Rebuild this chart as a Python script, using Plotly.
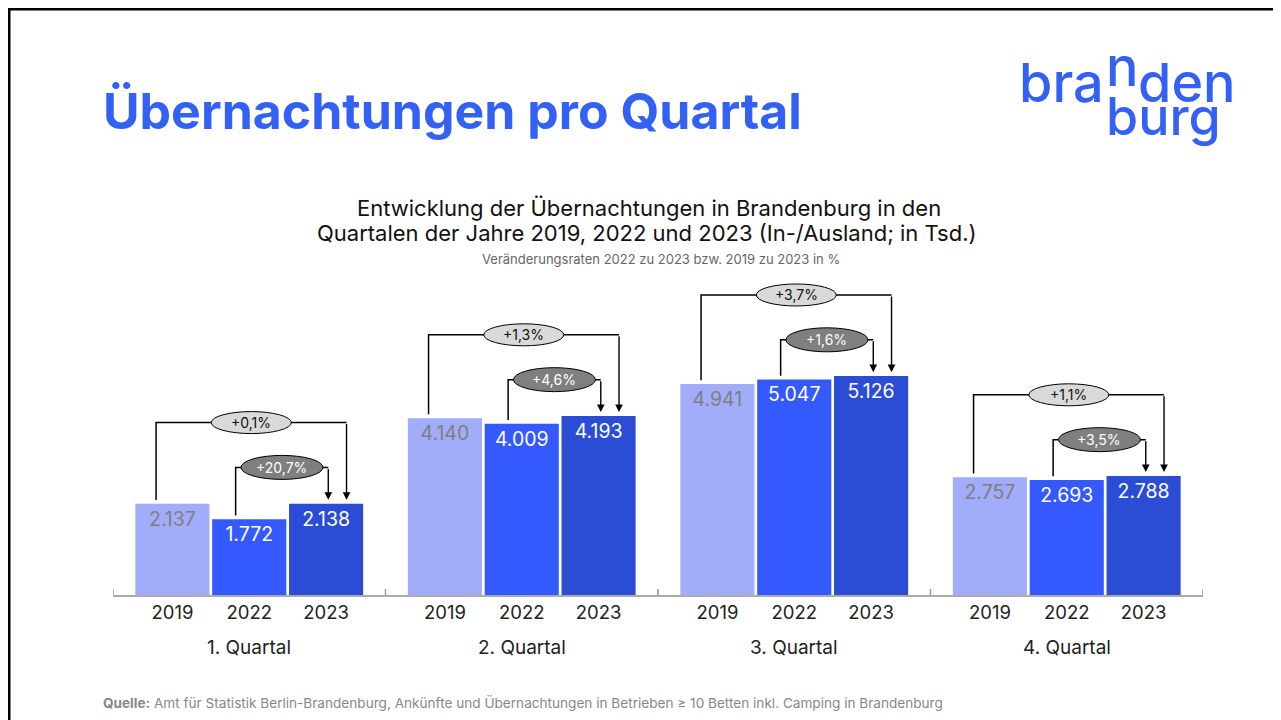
import plotly.graph_objects as go

# data (Übernachtungen in Tsd.)
quarters = ["1. Quartal", "2. Quartal", "3. Quartal", "4. Quartal"]
years = ["2019", "2022", "2023"]
v2019 = [2137, 4140, 4941, 2757]
v2022 = [1772, 4009, 5047, 2693]
v2023 = [2138, 4193, 5126, 2788]
chg_19_23 = ["+0,1%", "+1,3%", "+3,7%", "+1,1%"]
chg_22_23 = ["+20,7%", "+4,6%", "+1,6%", "+3,5%"]

bar_colors = ["#A1ACFA", "#3359FF", "#2B4DD6"]
text_colors = ["#7F7F7F", "white", "white"]
BLUE = "#3361F5"
FONT = "Inter"

SLOT = 0.282   # distance between bars inside a quarter
WIDTH = 0.272

# the page puts the figure 8px in from the top-left corner
OFF = 8
# plot area in page pixels
L, R, T, B = 113, 1203, 279, 595


def fx(px):
    return (px - L) / (R - L)


def fy(py):
    return (B - py) / (B - T)


def de(v):
    return f"{v:,}".replace(",", ".")


fig = go.Figure()

series = [v2019, v2022, v2023]
for j, (yr, vals) in enumerate(zip(years, series)):
    fig.add_trace(go.Bar(
        x=[q + (j - 1) * SLOT for q in range(len(quarters))],
        y=vals,
        width=WIDTH,
        name=yr,
        marker=dict(color=bar_colors[j], line=dict(width=0)),
        text=[de(v) for v in vals],
        textposition="inside",
        insidetextanchor="end",
        textfont=dict(family=FONT, size=19.5, color=text_colors[j]),
        hoverinfo="skip",
    ))

shapes = []
annotations = []

# group boundary ticks on the axis
for b in range(len(quarters) + 1):
    shapes.append(dict(type="line", xref="x", yref="y", x0=b - 0.5, x1=b - 0.5,
                       ysizemode="pixel", yanchor=0, y0=-6, y1=6,
                       line=dict(color="#9A9A9A", width=1.5)))

GAP = 90  # data units between bar top and connector

for q in range(len(quarters)):
    top = max(v2019[q], v2022[q], v2023[q])
    # outer bracket 2019 -> 2023
    yo = top + 1900
    xl = q - SLOT - 0.06
    xr = q + SLOT + 0.075
    shapes.append(dict(type="path", xref="x", yref="y",
                       path=f"M {xl},{v2019[q] + GAP} L {xl},{yo} L {xr},{yo}",
                       line=dict(color="black", width=1.5)))
    annotations.append(dict(x=xr, y=v2023[q] + GAP, ax=xr, ay=yo, xref="x", yref="y",
                            axref="x", ayref="y", text="", showarrow=True,
                            arrowhead=2, arrowsize=1.1, arrowwidth=1.4, arrowcolor="black"))
    mid = (xl + xr) / 2
    shapes.append(dict(type="circle", xref="x", yref="y", xsizemode="pixel", xanchor=mid,
                       x0=-40, x1=40, ysizemode="pixel", yanchor=yo, y0=-11, y1=11,
                       fillcolor="#D9D9D9", line=dict(color="black", width=1)))
    annotations.append(dict(x=mid, y=yo, xref="x", yref="y", text=chg_19_23[q],
                            showarrow=False, font=dict(family=FONT, size=14, color="#111")))

    # inner bracket 2022 -> 2023
    yi = top + 850
    xl2 = q - 0.05
    xr2 = q + SLOT + 0.008
    shapes.append(dict(type="path", xref="x", yref="y",
                       path=f"M {xl2},{v2022[q] + GAP} L {xl2},{yi} L {xr2},{yi}",
                       line=dict(color="black", width=1.5)))
    annotations.append(dict(x=xr2, y=v2023[q] + GAP, ax=xr2, ay=yi, xref="x", yref="y",
                            axref="x", ayref="y", text="", showarrow=True,
                            arrowhead=2, arrowsize=1.1, arrowwidth=1.4, arrowcolor="black"))
    mid2 = (xl2 + xr2) / 2
    shapes.append(dict(type="circle", xref="x", yref="y", xsizemode="pixel", xanchor=mid2,
                       x0=-41, x1=41, ysizemode="pixel", yanchor=yi, y0=-12, y1=12,
                       fillcolor="#7F7F7F", line=dict(color="black", width=1)))
    annotations.append(dict(x=mid2, y=yi, xref="x", yref="y", text=chg_22_23[q],
                            showarrow=False, font=dict(family=FONT, size=14, color="white")))

    # quarter label
    annotations.append(dict(x=q, y=fy(647), xref="x", yref="paper", yanchor="middle",
                            text=quarters[q], showarrow=False,
                            font=dict(family=FONT, size=19, color="#222")))

# page frame (only its top and left edges fall inside the window)
shapes.append(dict(type="rect", xref="paper", yref="paper", x0=fx(9), y0=fy(760),
                   x1=fx(1320), y1=fy(9), line=dict(color="black", width=3),
                   layer="above"))


def note(px, py, text, size, color, xanchor="center", weight=None):
    f = dict(family=FONT, size=size, color=color)
    if weight:
        f["weight"] = weight
    return dict(x=fx(px), y=fy(py), xref="paper", yref="paper", xanchor=xanchor,
                yanchor="middle", text=text, showarrow=False, font=f)


# headings
annotations += [
    note(101, 111, "<b>Übernachtungen pro Quartal</b>", 50, BLUE, "left"),
    note(649, 208, "Entwicklung der Übernachtungen in Brandenburg in den", 22, "#111"),
    note(647, 233, "Quartalen der Jahre 2019, 2022 und 2023 (In-/Ausland; in Tsd.)", 22, "#111"),
    note(661, 259, "Veränderungsraten 2022 zu 2023 bzw. 2019 zu 2023 in %", 13, "#666"),
    note(101, 703, "<b>Quelle:</b> Amt für Statistik Berlin-Brandenburg, Ankünfte und Übernachtungen "
         "in Betrieben ≥ 10 Betten inkl. Camping in Brandenburg", 13.6, "#888", "left"),
]

# logo
annotations += [
    note(1017, 82, "bra", 54, BLUE, "left", 500),
    note(1104, 66, "n", 54, BLUE, "left", 500),
    note(1136, 82, "den", 54, BLUE, "left", 500),
    note(1104, 117, "burg", 52, BLUE, "left", 500),
]

tick_x = [q + (j - 1) * SLOT for q in range(len(quarters)) for j in range(len(years))]
tick_t = [yr for q in range(len(quarters)) for yr in years]

fig.update_layout(
    width=1281, height=720,
    margin=dict(l=L - OFF, r=1281 - R + OFF, t=T - OFF, b=720 - B + OFF),
    paper_bgcolor="white", plot_bgcolor="white",
    showlegend=False,
    barmode="overlay",
    font=dict(family=FONT),
    xaxis=dict(range=[-0.5, len(quarters) - 0.5], showgrid=False, zeroline=False,
               showline=True, linecolor="#ABABAB", linewidth=1.5,
               tickvals=tick_x, ticktext=tick_t, ticks="",
               tickfont=dict(family=FONT, size=18.5, color="#222")),
    yaxis=dict(range=[0, 7400], visible=False),
    shapes=shapes,
    annotations=annotations,
)

fig.write_html("out.html")
